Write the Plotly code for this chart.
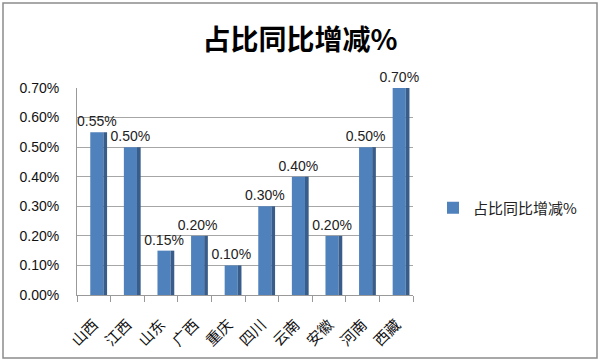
import plotly.graph_objects as go

categories = ["山西", "江西", "山东", "广西", "重庆", "四川", "云南", "安徽", "河南", "西藏"]
values = [0.55, 0.50, 0.15, 0.20, 0.10, 0.30, 0.40, 0.20, 0.50, 0.70]
series_name = "占比同比增减%"
title_text = "占比同比增减%"

front_color = "#4F81BD"
side_color = "#385D8A"

fig = go.Figure()
fig.add_trace(go.Bar(
    x=categories, y=values, name=series_name,
    marker=dict(color=front_color, line=dict(width=0)),
    width=0.39, offset=-0.105,
    texttemplate="%{y:.2f}%", textposition="outside", cliponaxis=False,
    constraintext="none",
    textfont=dict(family="Liberation Sans, Arial", size=14, color="#222"),
))
fig.add_trace(go.Bar(
    x=categories, y=values, showlegend=False, hoverinfo="skip",
    marker=dict(color=side_color, line=dict(width=0)),
    width=0.11, offset=0.285,
))

L, R, T, B = 77, 187, 88, 67
pw = 600 - L - R
ph = 362 - T - B
y0px = 362 - B

fig.update_layout(
    width=600, height=362,
    margin=dict(l=L, r=R, t=T, b=B, autoexpand=False),
    paper_bgcolor="white", plot_bgcolor="white",
    barmode="overlay",
    title=dict(text="<b>" + title_text + "</b>", x=0.5, xanchor="center",
               y=1 - 40 / 362, yanchor="middle",
               font=dict(family="Noto Sans CJK SC", size=28, color="#000")),
    showlegend=True,
    legend=dict(x=(433 - L) / pw, y=(y0px - 208) / ph, xanchor="left", yanchor="middle",
                font=dict(family="Noto Sans CJK SC", size=15, color="#222"),
                bgcolor="rgba(0,0,0,0)", itemwidth=30),
    xaxis=dict(
        type="category", showline=True, linecolor="#999", linewidth=1,
        ticks="outside", tickson="boundaries", ticklen=6, tickcolor="#999",
        tickangle=-45, showgrid=False, automargin=False, ticklabelstandoff=14,
        tickfont=dict(family="Noto Sans CJK SC", size=15, color="#111"),
    ),
    yaxis=dict(
        range=[0, 0.7], dtick=0.1, tickformat=".2f", ticksuffix="%",
        showline=True, linecolor="#999", linewidth=1,
        showgrid=True, gridcolor="#A6A6A6", gridwidth=1,
        ticks="", ticklabelstandoff=14, automargin=False,
        tickfont=dict(family="Liberation Sans, Arial", size=14, color="#111"),
        zeroline=False,
    ),
    shapes=[dict(type="rect", xref="paper", yref="paper",
                 x0=(3 - L) / pw, x1=(597 - L) / pw,
                 y0=(y0px - 358) / ph, y1=(y0px - 3) / ph,
                 line=dict(color="#8C8C8C", width=1.5), fillcolor="rgba(0,0,0,0)",
                 layer="below")],
)

fig.write_html("out.html", config={"displayModeBar": False},
               post_script="document.body.style.margin='0';")
